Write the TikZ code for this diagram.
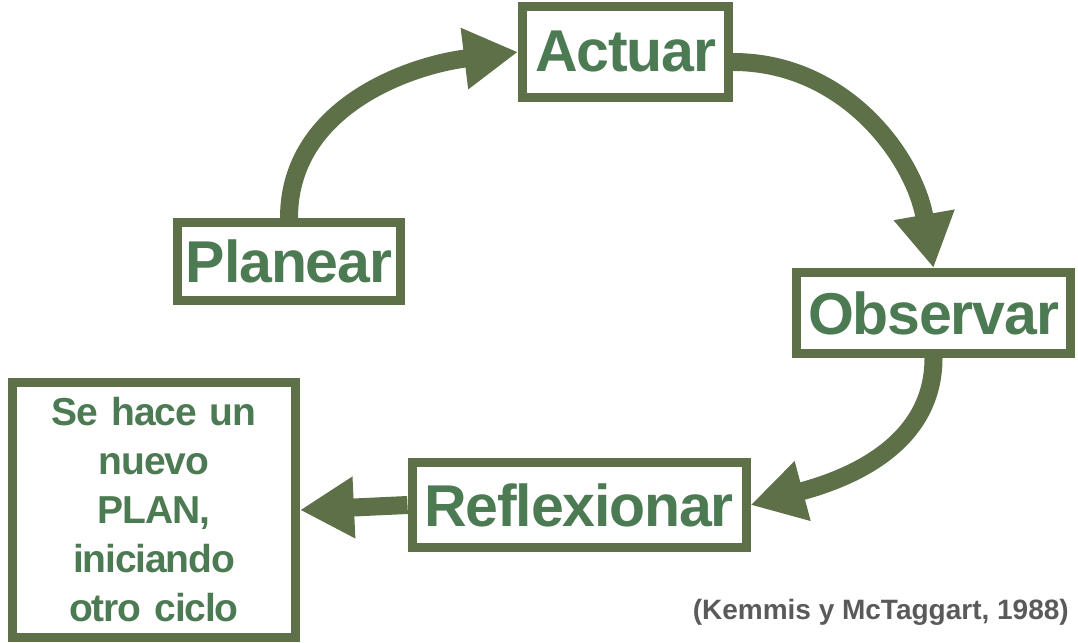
\documentclass[tikz,border=0pt]{standalone}
\usepackage{fontspec}
\setmainfont{Liberation Sans}
\newfontfamily\cyclefont[LetterSpace=-2]{Liberation Sans}
\newfontfamily\planfont[LetterSpace=-3,WordSpace=0.8]{Liberation Sans}
\usetikzlibrary{arrows.meta}
\definecolor{cyclegreen}{RGB}{94,112,72}
\definecolor{textgreen}{RGB}{76,122,82}
\definecolor{citegray}{RGB}{90,90,90}

\begin{document}
\begin{tikzpicture}[
    x=1pt, y=1pt,
    stage/.style={draw=cyclegreen, line width=9pt, fill=white, text=textgreen, inner sep=0pt,
      font=\cyclefont\fontsize{59}{64}\selectfont\bfseries},
    flow/.style={->, draw=cyclegreen, line width=18pt},
    >={Triangle[length=54pt,width=58pt]},
]
\useasboundingbox (0,0) rectangle (1078,642);

% The four stages of the cycle
\node[stage, minimum width=206pt, minimum height=91pt] (act) at (625.5,590) {Actuar};
\node[stage, minimum width=223pt, minimum height=78pt] (plan) at (289,380.5) {Planear};
\node[stage, minimum width=274pt, minimum height=81pt] (obs) at (933.5,329) {Observar};
\node[stage, minimum width=334pt, minimum height=85pt] (refl) at (579,137) {Reflexionar};

% Box for the next cycle
\node[stage, minimum width=283pt, minimum height=255pt, text width=283pt, align=center,
  font=\planfont\fontsize{39}{49}\selectfont\bfseries] (nuevo) at (154,132)
  {Se hace un\\ nuevo\\ PLAN,\\ iniciando\\ otro ciclo};

% Arrows round the cycle
\draw[flow] (plan.north) to[out=90,in=187] (act.west);
\draw[flow] ([yshift=-10pt]act.east) to[out=0,in=100] (obs.north);
\draw[flow] (obs.south) to[out=-90,in=15] (refl.east);
\draw[flow] (refl.west) -- (nuevo.east);

% Source
\node[anchor=east, text=citegray, font=\fontsize{28}{32}\selectfont\bfseries, inner sep=0pt] (cite) at (1069,30)
  {(Kemmis y McTaggart, 1988)};

\end{tikzpicture}
\end{document}
